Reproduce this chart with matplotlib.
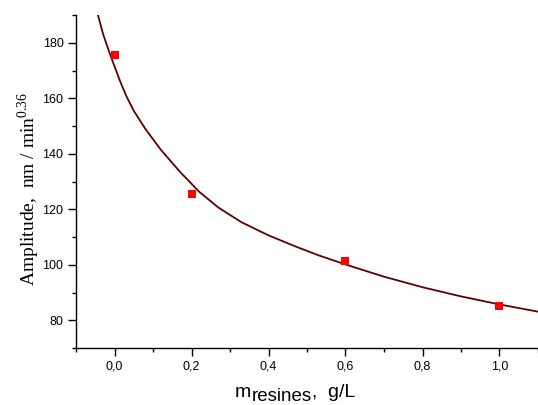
import numpy as np
import matplotlib
matplotlib.use("Agg")
import matplotlib.pyplot as plt
from matplotlib.ticker import MultipleLocator, FixedLocator

# measured points (resin mass, amplitude)
m_resines = [0.0, 0.2, 0.6, 1.0]
amplitude = [175.5, 125.5, 101.5, 85.3]

# fitted curve
fit_x = [-0.043, -0.03, -0.0145, 0.0, 0.015, 0.03, 0.05, 0.08, 0.12, 0.17,
         0.22, 0.27, 0.33, 0.40, 0.47, 0.53, 0.60, 0.70, 0.80, 0.90, 1.00, 1.10]
fit_y = [190.0, 183.3, 177.0, 171.5, 166.0, 161.0, 155.5, 149.0, 141.5, 133.5,
         126.3, 120.6, 115.3, 110.6, 106.6, 103.4, 100.1, 95.7, 91.9, 88.6, 85.7, 83.1]

x_ticks = [0.0, 0.2, 0.4, 0.6, 0.8, 1.0]
x_tick_labels = ["0,0", "0,2", "0,4", "0,6", "0,8", "1,0"]
y_ticks = [80, 100, 120, 140, 160, 180]
y_tick_labels = ["80", "100", "120", "140", "160", "180"]

plt.rcParams['font.family'] = ['Liberation Sans', 'DejaVu Sans']
plt.rcParams['mathtext.fontset'] = 'custom'
plt.rcParams['mathtext.rm'] = 'Liberation Serif'

fig = plt.figure(figsize=(5.38, 4.05), dpi=100)
ax = fig.add_axes([76 / 538, 57 / 405, 462 / 538, 333 / 405])

ax.plot(fit_x, fit_y, color='#5c0000', lw=1.3, zorder=2)
ax.plot(m_resines, amplitude, linestyle='none', marker='s', markersize=6,
        color='#ff0000', markeredgewidth=0, zorder=3)

ax.set_xlim(-0.1, 1.1)
ax.set_ylim(70, 190)

ax.xaxis.set_major_locator(FixedLocator(x_ticks))
ax.set_xticklabels(x_tick_labels)
ax.xaxis.set_minor_locator(MultipleLocator(0.1))
ax.yaxis.set_major_locator(FixedLocator(y_ticks))
ax.set_yticklabels(y_tick_labels)
ax.yaxis.set_minor_locator(MultipleLocator(10))

ax.tick_params(which='major', direction='out', length=5.5, width=1, labelsize=9)
ax.tick_params(which='minor', direction='out', length=3, width=1)

for side in ['top', 'right']:
    ax.spines[side].set_visible(False)
for side in ['left', 'bottom']:
    ax.spines[side].set_linewidth(1.0)

# x label: m with a large subscript, then the unit
t1 = ax.annotate('m', xy=(0.344, 0), xycoords='axes fraction',
                 xytext=(0, -35), textcoords='offset points',
                 ha='left', va='baseline', fontsize=14)
t2 = ax.annotate('resines', xy=(1, 0), xycoords=(t1, 'axes fraction'),
                 xytext=(0.5, -38.5), textcoords='offset points',
                 ha='left', va='baseline', fontsize=13.5)
ax.annotate(',  g/L', xy=(1, 0), xycoords=(t2, 'axes fraction'),
            xytext=(0, -35), textcoords='offset points',
            ha='left', va='baseline', fontsize=14)

ax.set_ylabel(r'Amplitude,  nm / min$^{\mathregular{0.36}}$',
              fontsize=14, family='Liberation Serif')
ax.yaxis.set_label_coords(-0.0736, 0.477)

fig.savefig('out.png', dpi=100)
